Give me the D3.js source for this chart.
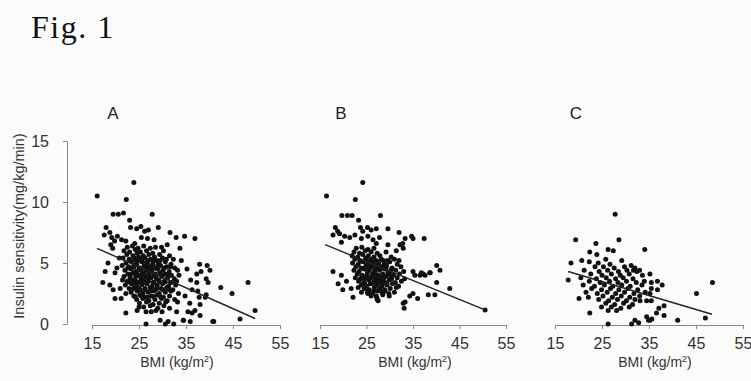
<!DOCTYPE html>
<html>

<head>
  <title>Fig. 1</title>
</head>

<body>

  <svg id="svg" width="751" height="381"></svg>

  <script src="https://d3js.org/d3.v7.min.js"></script>
  <script>
    // panel letters and axis ticks
    const panelNames = ['A', 'B', 'C']
    const bmiTicks = [15, 25, 35, 45, 55]
    const isTicks = [0, 5, 10, 15]

    // [BMI, insulin sensitivity]
    const panelA = [
      [16.1, 10.5], [23.9, 11.6], [22.3, 10.2], [19.5, 9.0], [20.6, 9.0], [21.7, 9.1], [27.8, 9.0], [23.0, 8.5],
      [18.0, 7.9], [18.8, 7.5], [23.2, 7.9], [24.5, 7.8], [25.4, 8.0], [26.2, 7.6], [27.0, 7.7], [29.1, 7.9], [31.6, 7.5],
      [17.6, 7.3], [19.2, 7.1], [20.4, 7.2], [19.8, 6.8], [21.3, 6.9], [22.2, 6.8], [25.5, 7.1], [26.8, 7.0], [28.2, 6.9],
      [24.1, 6.6], [19.0, 6.5], [19.4, 6.2], [32.9, 7.1], [34.7, 7.2], [36.9, 7.0], [33.7, 6.2], [31.0, 6.5], [29.8, 6.3],
      [17.8, 4.3], [18.4, 5.0], [17.3, 3.4], [19.9, 4.2], [18.8, 3.2], [19.5, 2.8], [21.0, 2.9], [21.2, 2.1], [19.9, 2.1],
      [22.2, 2.5], [22.2, 0.9], [20.3, 4.6], [21.5, 3.6], [20.8, 5.4],
      [24.6, 1.1], [26.5, 1.0], [27.6, 1.0], [28.6, 1.1], [29.5, 0.3], [31.2, 0.2], [26.5, 0.0], [30.6, 0.0], [32.4, 0.0],
      [34.5, 0.3], [35.9, 0.2], [40.9, 0.2], [29.9, 1.0], [25.0, 1.4], [31.5, 1.3], [33.0, 1.0],
      [38.0, 0.7], [36.3, 0.9], [38.0, 1.6], [39.1, 2.2], [39.3, 3.7], [39.5, 4.8], [40.1, 4.4], [38.2, 4.3], [37.3, 3.4],
      [39.7, 3.4], [42.4, 3.0], [44.8, 2.5], [48.2, 3.4], [39.3, 2.4], [37.8, 2.2], [36.9, 1.1], [35.4, 1.0],
      [40.7, 0.2], [46.5, 0.4], [49.7, 1.1], [34.4, 0.3], [37.9, 4.9], [37.3, 4.1], [36.3, 2.8], [37.5, 2.7],
      [36.0, 3.6], [35.2, 4.5], [34.0, 5.2], [33.5, 4.0], [34.8, 2.3], [33.2, 1.8], [35.8, 1.7],
      [22.5, 6.3], [23.6, 6.4], [24.8, 6.2], [26.0, 6.4], [27.4, 6.2], [28.5, 6.3],
      [21.8, 6.0], [23.0, 5.9], [24.2, 6.1], [25.3, 5.9], [26.6, 6.0], [27.9, 5.8], [30.2, 6.0],
      [22.4, 5.7], [23.7, 5.6], [24.6, 5.8], [25.9, 5.6], [27.1, 5.7], [28.3, 5.5], [29.4, 5.7], [31.5, 5.6],
      [21.6, 5.4], [22.9, 5.3], [24.0, 5.4], [25.1, 5.2], [26.3, 5.4], [27.5, 5.3], [28.8, 5.2], [30.0, 5.4], [32.3, 5.3],
      [22.2, 5.0], [23.4, 5.1], [24.5, 4.9], [25.6, 5.1], [26.8, 5.0], [27.9, 4.9], [29.1, 5.0], [30.6, 5.1], [31.8, 4.9],
      [21.4, 4.8], [22.8, 4.7], [23.9, 4.8], [25.0, 4.6], [26.1, 4.8], [27.3, 4.7], [28.4, 4.6], [29.6, 4.8], [30.9, 4.7], [32.6, 4.6],
      [22.0, 4.4], [23.3, 4.5], [24.4, 4.3], [25.5, 4.5], [26.6, 4.4], [27.7, 4.3], [28.9, 4.5], [30.1, 4.4], [31.4, 4.3], [33.2, 4.4],
      [22.6, 4.1], [23.8, 4.2], [24.9, 4.0], [26.0, 4.2], [27.1, 4.1], [28.2, 4.0], [29.4, 4.2], [30.5, 4.1], [31.9, 4.0],
      [21.8, 3.9], [23.1, 3.8], [24.3, 3.9], [25.4, 3.7], [26.5, 3.9], [27.6, 3.8], [28.7, 3.7], [29.9, 3.9], [31.1, 3.8], [32.5, 3.7],
      [22.5, 3.5], [23.7, 3.6], [24.8, 3.4], [25.9, 3.6], [27.0, 3.5], [28.1, 3.4], [29.2, 3.6], [30.4, 3.5], [31.7, 3.4], [33.0, 3.5],
      [22.1, 3.2], [23.4, 3.3], [24.5, 3.1], [25.6, 3.2], [26.7, 3.3], [27.8, 3.1], [28.9, 3.2], [30.0, 3.3], [31.3, 3.1], [32.8, 3.2],
      [22.9, 2.9], [24.0, 3.0], [25.2, 2.8], [26.3, 2.9], [27.4, 3.0], [28.5, 2.8], [29.7, 2.9], [30.9, 3.0], [32.2, 2.8],
      [23.3, 2.6], [24.6, 2.7], [25.8, 2.5], [26.9, 2.6], [28.1, 2.7], [29.3, 2.5], [30.6, 2.6], [31.8, 2.7], [33.4, 2.5],
      [23.9, 2.3], [25.2, 2.4], [26.4, 2.2], [27.6, 2.3], [28.9, 2.4], [30.2, 2.2], [31.5, 2.3],
      [24.5, 2.0], [25.8, 2.1], [27.1, 1.9], [28.4, 2.0], [29.8, 2.1], [31.0, 1.9], [32.6, 2.0],
      [25.1, 1.7], [26.6, 1.8], [28.0, 1.6], [29.3, 1.7], [30.7, 1.8],
      [26.0, 1.4], [27.4, 1.5], [29.0, 1.3], [30.3, 1.5],
      [24.9, 5.5], [26.3, 5.0], [27.5, 4.5], [25.7, 4.1], [28.6, 3.9], [26.2, 3.4], [27.3, 2.7], [24.2, 3.6],
      [29.0, 4.8], [25.3, 4.4], [28.0, 5.1], [26.9, 3.7],
      [23.0, 5.25], [24.3, 5.2], [25.6, 5.3], [26.9, 5.2], [28.2, 5.25], [29.5, 5.2], [30.8, 5.3],
      [22.6, 4.6], [23.9, 4.65], [25.2, 4.6], [26.5, 4.7], [27.8, 4.6], [29.1, 4.65], [30.4, 4.6], [31.7, 4.7],
      [23.2, 4.05], [24.5, 4.1], [25.8, 4.0], [27.1, 4.05], [28.4, 4.1], [29.7, 4.0], [31.0, 4.05],
      [22.8, 3.45], [24.1, 3.4], [25.4, 3.5], [26.7, 3.45], [28.0, 3.4], [29.3, 3.5], [30.6, 3.45], [31.9, 3.4],
      [23.6, 2.85], [24.9, 2.9], [26.2, 2.8], [27.5, 2.85], [28.8, 2.9], [30.1, 2.8], [31.4, 2.85],
      [24.2, 2.25], [25.5, 2.3], [26.8, 2.2], [28.1, 2.25], [29.4, 2.3]
    ]

    const panelB = [
      [16.4, 10.5], [24.2, 11.6], [22.6, 10.2], [19.7, 8.9], [20.9, 8.9], [21.9, 8.9], [28.0, 8.9], [23.3, 8.5],
      [18.3, 7.9], [18.8, 7.6], [23.7, 7.9], [25.2, 7.9], [24.2, 7.6], [26.0, 7.7], [27.1, 7.8], [29.6, 7.8],
      [17.8, 7.3], [19.2, 7.4], [20.3, 7.2], [21.4, 7.1], [22.5, 7.3], [19.6, 6.7], [23.9, 7.0], [25.3, 7.2],
      [26.4, 6.9], [27.8, 7.1], [27.1, 6.6], [29.6, 6.5], [31.4, 6.0], [32.0, 7.5], [34.7, 7.2], [35.0, 7.0],
      [37.4, 7.0], [33.3, 7.0], [32.2, 6.5], [32.9, 6.2], [32.8, 6.6],
      [17.8, 4.3], [19.6, 4.0], [18.9, 3.3], [20.7, 3.5], [21.7, 2.9], [19.9, 2.8], [22.1, 2.2], [23.2, 3.0], [23.9, 2.6],
      [25.3, 2.5], [27.1, 2.3], [28.3, 2.6], [27.5, 1.9], [27.3, 2.0],
      [32.0, 5.2], [40.1, 4.8], [40.8, 4.4], [38.6, 4.2], [37.6, 4.0], [36.5, 4.0], [36.8, 4.2], [35.0, 4.3], [35.4, 4.0],
      [40.1, 3.4], [42.9, 2.9], [38.3, 2.4], [39.7, 2.4], [36.0, 2.1], [34.3, 2.3], [33.3, 1.8], [33.1, 1.3], [32.9, 1.7],
      [50.5, 1.15], [35.0, 2.5], [37.2, 4.1], [38.7, 4.2],
      [22.8, 6.2], [24.0, 6.3], [25.3, 6.1], [26.6, 6.2],
      [22.3, 5.9], [23.5, 5.8], [24.7, 6.0], [26.0, 5.9], [27.3, 5.8], [29.2, 5.9],
      [21.9, 5.6], [23.1, 5.5], [24.2, 5.7], [25.4, 5.6], [26.6, 5.5], [27.9, 5.6], [30.3, 5.5],
      [22.5, 5.3], [23.6, 5.2], [24.8, 5.4], [25.9, 5.3], [27.0, 5.2], [28.2, 5.3], [29.5, 5.2], [31.0, 5.3],
      [22.0, 5.0], [23.2, 4.9], [24.3, 5.1], [25.4, 5.0], [26.5, 4.9], [27.6, 5.0], [28.8, 4.9], [30.0, 5.1], [31.6, 4.9],
      [22.7, 4.7], [23.8, 4.6], [24.9, 4.8], [26.0, 4.7], [27.1, 4.6], [28.2, 4.7], [29.3, 4.8], [30.5, 4.6], [32.4, 4.7],
      [22.3, 4.4], [23.4, 4.3], [24.5, 4.5], [25.6, 4.4], [26.7, 4.3], [27.8, 4.4], [28.9, 4.5], [30.1, 4.3], [31.3, 4.4], [33.0, 4.3],
      [23.0, 4.1], [24.1, 4.0], [25.2, 4.2], [26.3, 4.1], [27.4, 4.0], [28.5, 4.1], [29.6, 4.2], [30.8, 4.0], [32.1, 4.1],
      [22.6, 3.8], [23.7, 3.7], [24.8, 3.9], [25.9, 3.8], [27.0, 3.7], [28.1, 3.8], [29.2, 3.9], [30.4, 3.7], [31.6, 3.8], [33.2, 3.7],
      [23.3, 3.5], [24.4, 3.4], [25.5, 3.6], [26.6, 3.5], [27.7, 3.4], [28.8, 3.5], [29.9, 3.6], [31.2, 3.4], [32.5, 3.5],
      [23.9, 3.2], [25.0, 3.1], [26.1, 3.3], [27.2, 3.2], [28.3, 3.1], [29.4, 3.2], [30.6, 3.3], [31.9, 3.1],
      [24.5, 2.9], [25.6, 2.8], [26.7, 3.0], [27.8, 2.9], [28.9, 2.8], [30.1, 2.9], [31.4, 3.0],
      [25.2, 2.6], [26.3, 2.5], [27.4, 2.7], [28.6, 2.6], [29.8, 2.5], [31.0, 2.6],
      [26.0, 2.3], [27.2, 2.2], [28.5, 2.4], [29.9, 2.3],
      [25.0, 4.5], [26.2, 3.9], [27.3, 4.8], [28.4, 3.3], [26.8, 4.2], [24.6, 3.7], [27.9, 3.6], [25.8, 4.9],
      [23.8, 5.15], [25.0, 5.2], [26.2, 5.1], [27.4, 5.15], [28.6, 5.2], [29.8, 5.1],
      [24.4, 4.55], [25.6, 4.6], [26.8, 4.5], [28.0, 4.55], [29.2, 4.6], [30.4, 4.5],
      [24.0, 3.95], [25.2, 3.9], [26.4, 4.0], [27.6, 3.95], [28.8, 3.9], [30.0, 4.0],
      [24.6, 3.35], [25.8, 3.3], [27.0, 3.4], [28.2, 3.35], [29.4, 3.3],
      [25.4, 2.75], [26.6, 2.7], [27.8, 2.8], [29.0, 2.75]
    ]

    const panelC = [
      [27.8, 9.0], [19.4, 6.9], [28.6, 6.9], [23.7, 6.6], [34.1, 6.1], [22.4, 5.9], [23.9, 5.7], [26.3, 6.1], [27.4, 6.0],
      [18.4, 5.0], [20.7, 5.2], [22.3, 5.1], [24.2, 5.0], [25.8, 5.3], [26.7, 4.9], [29.2, 5.2], [17.8, 3.6],
      [20.1, 2.1], [22.1, 2.2], [22.4, 0.9], [24.9, 1.4], [26.3, 1.1], [28.1, 1.1], [26.3, 0.0], [31.3, 0.0], [32.8, 0.1],
      [34.9, 0.3], [35.6, 0.4], [41.1, 0.3], [47.0, 0.5], [45.1, 2.5], [48.5, 3.4], [31.7, 4.4], [32.4, 4.3], [32.0, 4.6],
      [33.0, 4.4], [35.2, 4.1], [36.8, 3.5], [37.8, 3.2], [35.5, 3.4], [36.8, 2.8], [35.5, 2.9], [35.2, 2.5], [38.2, 1.5],
      [37.1, 1.3], [36.6, 0.9], [38.2, 0.7], [34.5, 0.6], [35.2, 0.3], [32.0, 0.3], [34.5, 1.9], [35.5, 1.9], [33.1, 1.9],
      [23.5, 4.7], [25.3, 4.7], [27.6, 4.6], [29.8, 4.7], [31.2, 4.8],
      [21.2, 4.4], [24.4, 4.3], [26.2, 4.4], [28.5, 4.3], [30.3, 4.4],
      [22.6, 4.1], [25.0, 4.0], [27.0, 4.1], [28.9, 4.0], [30.8, 4.1], [33.6, 4.0],
      [20.5, 3.8], [23.8, 3.7], [25.9, 3.8], [27.9, 3.7], [29.5, 3.8], [31.6, 3.7],
      [22.3, 3.5], [24.6, 3.4], [26.6, 3.5], [28.4, 3.4], [30.2, 3.5], [32.3, 3.4], [34.0, 3.5],
      [21.0, 3.2], [23.4, 3.1], [25.5, 3.2], [27.3, 3.1], [29.2, 3.2], [31.0, 3.1], [33.5, 3.2],
      [22.8, 2.9], [24.9, 2.8], [26.8, 2.9], [28.6, 2.8], [30.5, 2.9], [32.6, 2.8],
      [21.6, 2.6], [24.0, 2.5], [26.1, 2.6], [27.9, 2.5], [29.8, 2.6], [31.8, 2.5], [34.2, 2.6],
      [25.2, 2.3], [27.2, 2.2], [29.1, 2.3], [30.9, 2.2], [33.0, 2.3],
      [24.3, 2.0], [26.4, 1.9], [28.3, 2.0], [30.2, 1.9], [32.0, 2.0],
      [25.8, 1.7], [27.7, 1.6], [29.6, 1.7], [31.5, 1.6],
      [27.0, 1.4], [29.0, 1.3], [30.8, 1.4]
    ]

    // fitted lines, [BMI, insulin sensitivity] at each end
    const lineA = [[16.1, 6.2], [49.7, 0.45]]
    const lineB = [[16.1, 6.5], [50.5, 1.15]]
    const lineC = [[17.8, 4.3], [48.4, 0.8]]

    const panels = [
      { name: panelNames[0], points: panelA, fit: lineA, range: [92, 280], title: 177 },
      { name: panelNames[1], points: panelB, fit: lineB, range: [320, 506], title: 415 },
      { name: panelNames[2], points: panelC, fit: lineC, range: [555, 743], title: 655 }
    ]

    const svg = d3.select('#svg')

    svg.append('rect')
      .attr('width', 751)
      .attr('height', 381)
      .attr('fill', '#fbfbfb')

    svg.append('text')
      .attr('x', 31)
      .attr('y', 38)
      .attr('font-family', 'Liberation Serif, serif')
      .attr('font-size', 32)
      .attr('letter-spacing', 1.5)
      .attr('fill', '#111')
      .text('Fig. 1')

    const yscale = d3.scaleLinear()
      .domain([0, 15])
      .range([324, 141])

    // y axis only on the first panel
    const yaxis = svg.append('g')
      .attr('transform', 'translate(67,0)')
      .call(d3.axisLeft(yscale).tickValues(isTicks).tickSize(4).tickSizeOuter(0).tickPadding(14))
    styleAxis(yaxis)

    svg.append('text')
      .attr('transform', 'translate(24,226) rotate(-90)')
      .attr('text-anchor', 'middle')
      .attr('font-family', 'Liberation Sans, Arial, sans-serif')
      .attr('font-size', 14.5)
      .attr('fill', '#333')
      .text('Insulin sensitivity(mg/kg/min)')

    panels.forEach(p => drawPanel(p))

    function drawPanel(p) {
      const xscale = d3.scaleLinear()
        .domain([15, 55])
        .range(p.range)

      const g = svg.append('g')

      const xaxis = g.append('g')
        .attr('transform', 'translate(0,325)')
        .call(d3.axisBottom(xscale).tickValues(bmiTicks).tickSize(4).tickSizeOuter(4).tickPadding(9))
      styleAxis(xaxis)

      g.append('text')
        .attr('x', xscale(15) + 21)
        .attr('y', 119)
        .attr('text-anchor', 'middle')
        .attr('font-family', 'Liberation Sans, Arial, sans-serif')
        .attr('font-size', 17)
        .attr('fill', '#222')
        .text(p.name)

      const title = g.append('text')
        .attr('x', p.title)
        .attr('y', 367)
        .attr('text-anchor', 'middle')
        .attr('font-family', 'Liberation Sans, Arial, sans-serif')
        .attr('font-size', 14)
        .attr('fill', '#333')
      title.append('tspan').text('BMI (kg/m')
      title.append('tspan').attr('font-size', 9).attr('dy', -5).text('2')
      title.append('tspan').attr('dy', 5).text(')')

      g.append('g')
        .selectAll('circle')
        .data(p.points)
        .join('circle')
        .attr('cx', d => xscale(d[0]))
        .attr('cy', d => yscale(d[1]))
        .attr('r', 2.5)
        .attr('fill', '#111')

      const linegen = d3.line()
        .x(d => xscale(d[0]))
        .y(d => yscale(d[1]))

      g.append('path')
        .attr('d', linegen(p.fit))
        .attr('stroke', '#222')
        .attr('stroke-width', 1.4)
        .attr('fill', 'none')
    }

    function styleAxis(axis) {
      axis.select('.domain').attr('stroke', '#888')
      axis.selectAll('.tick line').attr('stroke', '#888')
      axis.selectAll('.tick text')
        .attr('font-family', 'Liberation Sans, Arial, sans-serif')
        .attr('font-size', 16)
        .attr('fill', '#333')
    }
  </script>
</body>

<style>
  body,
  html {
    margin: 0;
    padding: 0;
  }

  #svg {
    display: block;
  }
</style>

</html>
